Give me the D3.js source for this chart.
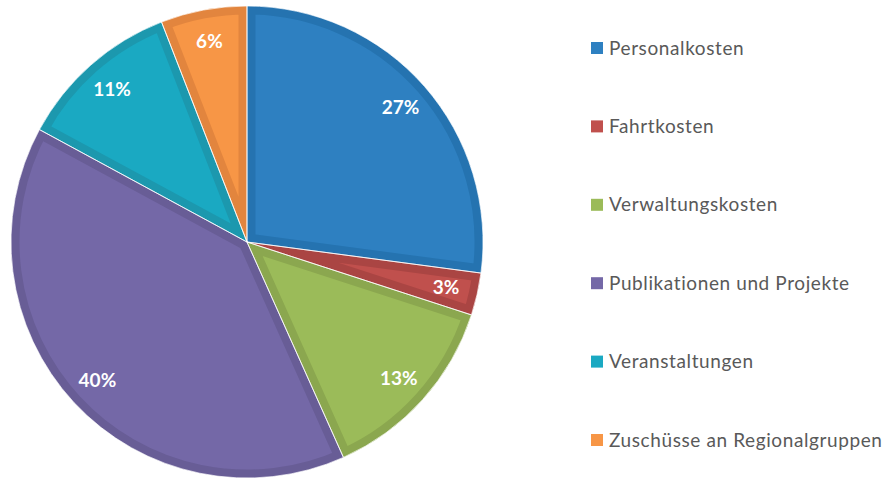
<!DOCTYPE html>
<html>
<head>
<meta charset="utf-8">
<script src="https://cdn.jsdelivr.net/npm/d3@7"></script>
<style>
  body { margin: 0; background: #fff; }
  svg { display: block; }
</style>
</head>
<body>
<script>
// Data (shares in percent)
const categories = ["Personalkosten", "Fahrtkosten", "Verwaltungskosten",
  "Publikationen und Projekte", "Veranstaltungen", "Zuschüsse an Regionalgruppen"];
const values = [27.1, 2.9, 13.3, 39.6, 11.2, 5.9];
const fillColors = ["#2e80c1", "#c0504d", "#9bbb59", "#7468a7", "#1aa9c2", "#f79646"];
const borderColors = ["#2573b0", "#aa4543", "#8ba74f", "#685d96", "#1c98ae", "#e2853e"];

const width = 887, height = 479;
const cx = 247, cy = 242, radius = 236;

const svg = d3.select("body").append("svg")
  .attr("width", width)
  .attr("height", height);

const pie = d3.pie().sort(null).value(d => d.value);
const slices = pie(categories.map((c, i) => ({ name: c, value: values[i], i })));
const total = d3.sum(values);

const arc = d3.arc().innerRadius(0).outerRadius(radius);
const labelArc = d3.arc().innerRadius(204).outerRadius(204);

const defs = svg.append("defs");
const g = svg.append("g").attr("transform", `translate(${cx},${cy})`);

// clip each slice to itself so the darker border only shows on the inside
defs.selectAll("clipPath")
  .data(slices)
  .enter()
  .append("clipPath")
  .attr("id", d => "clip" + d.data.i)
  .append("path")
  .attr("d", arc);

g.selectAll("path.slice")
  .data(slices)
  .enter()
  .append("path")
  .attr("class", "slice")
  .attr("d", arc)
  .attr("fill", d => fillColors[d.data.i])
  .attr("stroke", d => borderColors[d.data.i])
  .attr("stroke-width", 17)
  .attr("stroke-linejoin", "miter")
  .attr("clip-path", d => `url(#clip${d.data.i})`);

// thin white separators
g.selectAll("path.sep")
  .data(slices)
  .enter()
  .append("path")
  .attr("class", "sep")
  .attr("d", arc)
  .attr("fill", "none")
  .attr("stroke", "#fff")
  .attr("stroke-opacity", 0.7)
  .attr("stroke-width", 1);

// percentage labels
g.selectAll("text")
  .data(slices)
  .enter()
  .append("text")
  .attr("transform", d => `translate(${labelArc.centroid(d)})`)
  .attr("text-anchor", "middle")
  .attr("dy", "0.35em")
  .attr("fill", "#fff")
  .style("font-family", "Lato, 'Open Sans', sans-serif")
  .style("font-weight", "bold")
  .style("font-size", "19px")
  .text(d => Math.round(d.data.value / total * 100) + "%");

// legend
const legendY = d3.scalePoint()
  .domain(categories)
  .range([48, 440]);

const legend = svg.append("g")
  .selectAll("g")
  .data(categories)
  .enter()
  .append("g")
  .attr("transform", d => `translate(591,${legendY(d)})`);

legend.append("rect")
  .attr("x", 0)
  .attr("y", -6)
  .attr("width", 12)
  .attr("height", 12)
  .attr("fill", (d, i) => fillColors[i]);

legend.append("text")
  .attr("x", 18)
  .attr("dy", "0.35em")
  .attr("fill", "#595959")
  .style("font-family", "Lato, 'Open Sans', sans-serif")
  .style("font-size", "19px")
  .style("letter-spacing", "0.6px")
  .text(d => d);
</script>
</body>
</html>
